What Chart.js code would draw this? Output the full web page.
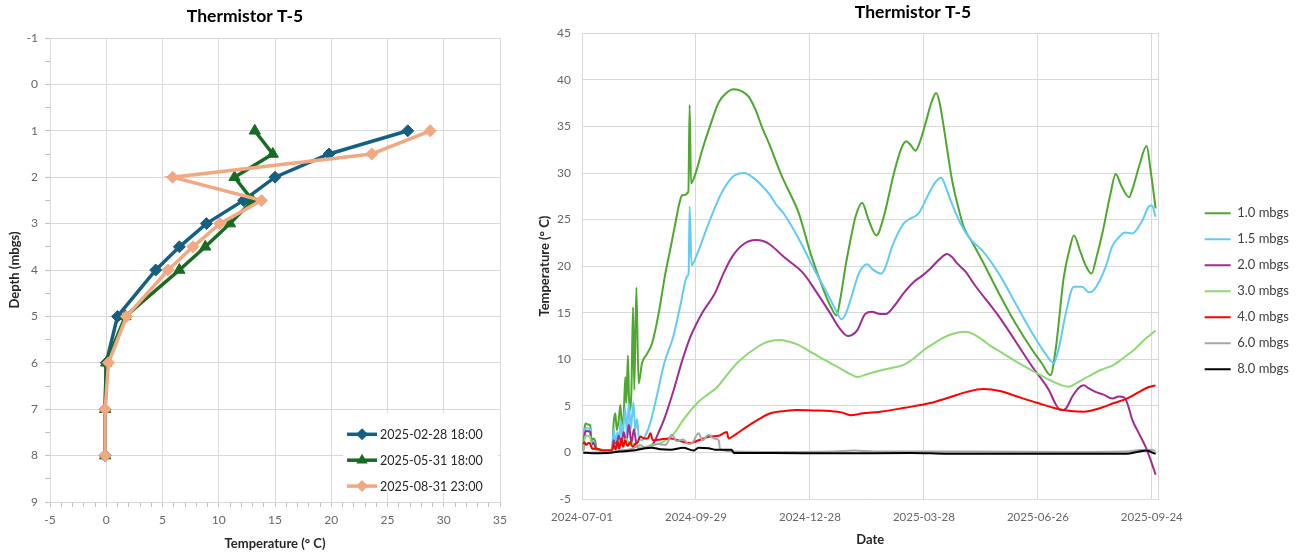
<!DOCTYPE html>
<html>
<head>
<meta charset="utf-8">
<script src="https://cdn.jsdelivr.net/npm/chart.js"></script>
<style>
  html, body { margin: 0; padding: 0; background: #fff; overflow: hidden; }
  #wrap { position: relative; width: 1299px; height: 554px; }
  #left { position: absolute; left: -12px; top: 0; }
  #right { position: absolute; left: 527px; top: 0; }
</style>
</head>
<body>
<div id="wrap">
  <canvas id="left" width="525" height="554"></canvas>
  <canvas id="right" width="772" height="554"></canvas>
</div>
<script>
// ---- profile chart (left) ----
const depths = [1, 1.5, 2, 2.5, 3, 3.5, 4, 5, 6, 7, 8];
const profileLabels = ["2025-02-28 18:00", "2025-05-31 18:00", "2025-08-31 23:00"];
const tempFeb = [26.8, 19.8, 15.0, 12.2, 8.9, 6.5, 4.4, 1.0, 0.0, -0.1, -0.1];
const tempMay = [13.2, 14.8, 11.4, 13.0, 11.0, 8.8, 6.5, 1.7, 0.0, -0.1, -0.1];
const tempAug = [28.8, 23.6, 5.9, 13.8, 10.1, 7.7, 5.5, 1.8, 0.2, -0.1, -0.1];

// ---- time series (right) : [days since 2024-07-01, °C] ----
const seriesLabels = ["1.0 mbgs", "1.5 mbgs", "2.0 mbgs", "3.0 mbgs", "4.0 mbgs", "6.0 mbgs", "8.0 mbgs"];
const dateTicks = [0, 90, 180, 270, 360, 450]; // days since 2024-07-01
const t10 = [[1,0.4],[2,2.6],[3,3.1],[5,3.0],[6.5,2.9],[7.5,1.3],[9,1.5],[10.5,1.2],[11.5,0.4],[16,0.3],[22,0.2],[24,0.6],[25,3.2],[26.3,4.2],[27.5,2.4],[29,3.5],[30.3,5.1],[31.5,3.0],[33,4.2],[34.2,8.1],[35,5.3],[36.3,10.4],[37.4,4.5],[39,6.5],[40.3,15.6],[41.3,6.7],[42.9,17.7],[44.7,7.4],[47.4,9.6],[51,10.5],[55.3,11.7],[60.5,14.9],[65.8,19.2],[70,22],[73.7,24.6],[77,26.8],[79,27.6],[84,28.0],[85,37.3],[86.1,28.9],[89.5,29.9],[95,32.5],[100,34.6],[108,37.6],[114,38.6],[119.8,39.0],[126,38.8],[131.6,38.2],[137,36.8],[142.2,34.9],[148.8,32.8],[152.7,31.4],[159.3,29.2],[165,27.6],[171.2,25.7],[180.4,21.4],[190.9,17.4],[197,15.5],[201,14.7],[204,16.5],[208,19.9],[212,22.8],[216,25.3],[221.2,26.8],[226.5,24.9],[232.5,23.3],[238.3,25.3],[246.2,29.9],[252,32.6],[256.2,33.4],[259.5,33.0],[263.4,32.4],[267,33.4],[271.2,35.3],[276,37.6],[279.7,38.6],[282.5,37.5],[285.7,34.9],[292.3,29.2],[297,26.4],[301.5,24.2],[308,22.6],[316,20.6],[329.2,17.1],[342.4,13.85],[355.6,11.0],[363,9.6],[370,8.3],[374,11],[380.5,18.85],[385,21.8],[388.4,23.3],[393.7,21.5],[398,20.0],[402.4,19.2],[406,20.8],[410.9,23.5],[417.4,27.8],[421.4,29.9],[426,28.6],[432,27.4],[435,28.4],[439.8,30.65],[445.9,32.9],[449,30.3],[453,26.2]];
const t15 = [[1,0.3],[2,2.2],[3,2.6],[6.5,2.5],[7.5,1.0],[9,1.2],[11.5,0.3],[16,0.2],[22,0.2],[24,0.5],[25,2.5],[26.5,1.0],[28,2.2],[29.5,1.2],[30.5,3.5],[32,1.5],[34,4.8],[35.5,2.0],[37,5.3],[38.5,2.5],[40.6,5.4],[42,2.4],[43.5,3.6],[45,1.5],[47,1.3],[50,1.8],[54,3.2],[59,6.0],[65,9.6],[72,12.4],[78,16.0],[83,18.9],[84.2,19.3],[85,26.4],[86.5,20.1],[90,21.0],[100,24.6],[110,27.8],[120,29.7],[128.5,30.0],[135,29.5],[141,28.8],[148.7,27.6],[152.8,26.7],[159.3,25.65],[172.5,22.6],[183,19.75],[193.6,17.1],[200,15.4],[204.9,14.3],[208,14.8],[212,16.35],[218.6,19.2],[225.2,20.2],[230,19.6],[236.5,19.2],[240,20.0],[244.9,22.1],[254.1,24.6],[259.4,25.1],[266,25.7],[273.9,27.8],[279,29.0],[283.7,29.5],[287,28.6],[291,27.1],[298.9,24.6],[303,23.6],[308,22.7],[316,21.7],[329.2,19.2],[342.4,16.0],[355.6,12.8],[366,10.6],[372.6,9.6],[377,11.5],[382,14.9],[388.4,17.8],[395,17.8],[400,17.2],[404,17.4],[413.5,19.9],[418.6,22.1],[424,23.1],[429,23.6],[434.5,23.5],[442.5,24.9],[447.7,26.4],[450,26.5],[453,25.3]];
const t20 = [[1,0.2],[2,1.8],[3,2.3],[6.5,2.2],[7.5,0.8],[9,1.0],[11.5,0.3],[22,0.2],[24,0.4],[25,1.3],[27,0.5],[29,1.8],[31,0.8],[33,2.2],[35,1.0],[37,3.0],[39,1.0],[41,2.5],[43,0.8],[46,0.4],[52,0.6],[56.6,1.0],[60,2.0],[65,3.6],[72.4,6.7],[79,9.8],[85.6,12.4],[95,15.0],[105,17.1],[112,19.3],[118.5,21.0],[128,22.4],[137,22.8],[143,22.7],[148.7,22.3],[159.3,21.0],[175,19.2],[185.7,17.1],[196.2,14.9],[203,13.4],[210,12.5],[213,12.6],[217.3,13.1],[223.8,14.9],[229,15.1],[234,14.9],[239.7,14.85],[247,15.8],[254,17.1],[262,18.3],[268,18.9],[275.2,19.75],[282,20.7],[288.4,21.3],[292,21.0],[296.3,20.3],[302.9,19.4],[310,18.0],[329.2,14.6],[355.6,9.2],[368.7,6.7],[374,5.2],[378,4.55],[382,4.7],[387.2,6.0],[392,6.9],[396.3,7.2],[400,6.9],[405.6,6.5],[412,6.2],[418.8,5.8],[424,6.0],[428,5.9],[430.6,5.3],[434.6,3.5],[439.8,2.05],[445.1,0.6],[449,-0.8],[453,-2.4]];
const t30 = [[1,0.2],[2,1.4],[3,1.8],[6.5,1.7],[7.5,0.6],[11.5,0.3],[22,0.2],[24,0.4],[26,0.8],[28,0.5],[30,1.3],[33,0.7],[35,1.5],[38,0.8],[40,1.0],[46,0.5],[55,0.8],[62,1.0],[68,1.5],[72.4,2.0],[80,3.5],[91,5.3],[98,6.1],[106.7,7.0],[115,8.4],[122.5,9.6],[135,11.0],[143.5,11.7],[150,12.0],[156.7,12.06],[163,11.9],[170,11.6],[183,10.6],[192,9.9],[201.4,9.2],[212,8.4],[217.3,8.1],[225,8.4],[235.7,8.8],[245,9.1],[254,9.4],[262,10.1],[270,11.0],[278,11.7],[285,12.3],[293,12.75],[302.9,12.95],[309,12.7],[315,12.2],[322,11.5],[330.5,10.8],[345,9.6],[359.5,8.5],[372,7.6],[379,7.2],[384.5,7.05],[390,7.4],[395,7.8],[402,8.3],[409.5,8.85],[420,9.4],[428,10.2],[435.8,11.0],[445,12.2],[453,13.1]];
const t40 = [[1,0.9],[2,1.1],[3,0.8],[5,1.0],[6.5,0.9],[8,0.4],[12,0.4],[16,0.2],[22,0.2],[24,0.3],[25,0.8],[26.5,0.3],[28,1.2],[29.5,0.4],[31,1.5],[32.5,0.6],[34,1.3],[36,0.7],[38,1.1],[40,0.6],[42,0.9],[44,1.1],[46,1.7],[49,1.5],[52,1.5],[54,2.05],[56,1.3],[62,1.4],[70,1.5],[78,1.2],[85.6,1.0],[92,1.3],[101,1.7],[108,1.8],[114.5,2.2],[115.6,1.5],[122,2.0],[130,2.75],[140,3.6],[148.8,4.2],[160,4.45],[170,4.55],[185,4.5],[196,4.44],[205,4.3],[212,4.0],[222,4.2],[235.7,4.37],[255,4.8],[275,5.3],[290,5.9],[304,6.5],[317,6.8],[330,6.6],[343.7,6.0],[360,5.3],[375,4.7],[386,4.45],[396,4.37],[410,4.8],[420,5.3],[430.6,5.8],[440,6.5],[447,7.0],[453,7.2]];
const t60 = [[1,-0.05],[10,0.0],[24,0.05],[30,0.2],[40,0.4],[46,0.8],[50,0.5],[60,0.9],[66,0.8],[71,1.9],[75,1.2],[80,1.4],[84,0.9],[87,1.0],[92,2.05],[95,1.3],[100,1.9],[104,1.5],[108,1.3],[109,0.35],[120,0.1],[150,0.05],[200,0.1],[215,0.2],[230,0.1],[300,0.1],[380,0.05],[430,0.1],[440,0.25],[448,0.3],[453,0.15]];
const t80 = [[1,0.0],[10,-0.1],[20,-0.05],[30,0.1],[40,0.2],[50,0.45],[55,0.5],[62,0.35],[70,0.3],[80,0.5],[88,0.2],[92,0.5],[100,0.45],[105,0.3],[118,0.3],[120,-0.05],[150,-0.05],[200,-0.1],[260,-0.05],[290,-0.15],[350,-0.15],[430,-0.15],[440,0.1],[446,0.2],[450,0.0],[453,-0.15]];

const FONT = "Lato";
const GRID = "#d9d9d9";
const TICK = "#666666";
const AXIS_TITLE = "#262626";
Chart.defaults.font.family = FONT;

// ---------- left chart ----------
const profileColors = ["#156082", "#196b24", "#f1a983"];
const profileStyles = ["rectRot", "triangle", "rectRot"];
const profileRadius = [6, 6.5, 6];
const profileTemps = [tempFeb, tempMay, tempAug];

// legend box drawn inside the plot, bottom right
const profileLegend = {
    id: "profileLegend",
    afterDraw(chart) {
        const ctx = chart.ctx;
        const a = chart.chartArea;
        const x0 = a.right - 157, y0 = a.bottom - 89;
        ctx.save();
        ctx.fillStyle = "#ffffff";
        ctx.fillRect(x0, y0, 155, 80);
        ctx.font = "12.5px " + FONT;
        ctx.textBaseline = "middle";
        profileLabels.forEach((lab, i) => {
            const y = y0 + 21.3 + i * 25.9;
            ctx.strokeStyle = profileColors[i];
            ctx.lineWidth = 3.5;
            ctx.beginPath();
            ctx.moveTo(x0 + 4, y);
            ctx.lineTo(x0 + 34, y);
            ctx.stroke();
            ctx.fillStyle = profileColors[i];
            const cx = x0 + 19, r = profileRadius[i];
            ctx.beginPath();
            if (profileStyles[i] === "triangle") {
                ctx.moveTo(cx, y - r);
                ctx.lineTo(cx + r * 0.866, y + r * 0.5);
                ctx.lineTo(cx - r * 0.866, y + r * 0.5);
            } else {
                ctx.moveTo(cx, y - r);
                ctx.lineTo(cx + r, y);
                ctx.lineTo(cx, y + r);
                ctx.lineTo(cx - r, y);
            }
            ctx.closePath();
            ctx.fill();
            ctx.fillStyle = "#262626";
            ctx.fillText(lab, x0 + 37, y + 0.5);
        });
        ctx.restore();
    }
};

new Chart(document.getElementById("left").getContext("2d"), {
    type: "scatter",
    data: {
        datasets: profileLabels.map((lab, i) => ({
            label: lab,
            data: depths.map((d, k) => ({ x: profileTemps[i][k], y: d })),
            showLine: true,
            borderColor: profileColors[i],
            backgroundColor: profileColors[i],
            borderWidth: 3.5,
            pointStyle: profileStyles[i],
            pointRadius: profileRadius[i],
            pointBorderWidth: 1,
            order: 2 - i
        }))
    },
    options: {
        responsive: false,
        animation: false,
        layout: { padding: { left: 0, right: 11, top: 0, bottom: 0 } },
        plugins: {
            legend: { display: false },
            tooltip: { enabled: false },
            title: {
                display: true, text: "Thermistor T-5", color: "#000",
                font: { size: 17.5, weight: "bold" }, padding: { top: 6.1, bottom: 10.9 }
            }
        },
        scales: {
            x: {
                type: "linear", min: -5, max: 35,
                ticks: {
                    stepSize: 1, autoSkip: false, maxRotation: 0, padding: 6,
                    color: TICK, font: { size: 12 },
                    callback: v => (v % 5 === 0 ? v : "")
                },
                grid: {
                    color: c => (c.tick && c.tick.value % 5 === 0 ? GRID : "rgba(0,0,0,0)"),
                    tickColor: "#bfbfbf", tickLength: 5
                },
                border: { color: GRID },
                title: {
                    display: true, text: "Temperature (° C)", color: AXIS_TITLE,
                    font: { size: 13, weight: "bold" }, padding: { top: 0, bottom: 2.2 }
                },
                afterFit: s => { s.height = 52; }
            },
            y: {
                type: "linear", reverse: true, min: -1, max: 9,
                ticks: {
                    stepSize: 0.5, autoSkip: false, padding: 7,
                    color: TICK, font: { size: 12 },
                    callback: v => (Number.isInteger(v) ? v : "")
                },
                grid: {
                    color: c => (c.tick && Number.isInteger(c.tick.value) ? GRID : "rgba(0,0,0,0)"),
                    tickColor: "#bfbfbf", tickLength: 5
                },
                border: { color: GRID },
                title: {
                    display: true, text: "Depth (mbgs)", color: AXIS_TITLE,
                    font: { size: 13, weight: "bold" }, padding: { top: 19.2, bottom: 0 }
                },
                afterFit: s => { s.width = 62; }
            }
        }
    },
    plugins: [profileLegend]
});

// ---------- right chart ----------
const seriesColors = ["#4ea72e", "#61cbf3", "#a02b93", "#8ed973", "#ff0000", "#a6a6a6", "#000000"];
const seriesData = [t10, t15, t20, t30, t40, t60, t80];
const day0 = Date.UTC(2024, 6, 1);

new Chart(document.getElementById("right").getContext("2d"), {
    type: "line",
    data: {
        datasets: seriesLabels.map((lab, i) => ({
            label: lab,
            data: seriesData[i].map(p => ({ x: p[0], y: p[1] })),
            borderColor: seriesColors[i],
            backgroundColor: seriesColors[i],
            borderWidth: 2,
            pointRadius: 0,
            cubicInterpolationMode: "monotone",
            order: seriesLabels.length - i
        }))
    },
    options: {
        responsive: false,
        animation: false,
        layout: { padding: { left: 0, right: 0, top: 0, bottom: 0 } },
        plugins: {
            tooltip: { enabled: false },
            title: {
                display: true, text: "Thermistor T-5", color: "#000",
                font: { size: 17.5, weight: "bold" }, padding: { top: 1.5, bottom: 10.8 }
            },
            legend: {
                position: "right",
                title: { display: true, text: "", font: { size: 12 }, padding: 7 },
                labels: {
                    usePointStyle: true, pointStyle: "line", pointStyleWidth: 26,
                    padding: 13, color: "#404040", font: { size: 13 },
                    sort: (a, b) => a.datasetIndex - b.datasetIndex
                }
            }
        },
        scales: {
            x: {
                type: "linear", min: 0, max: 455.4,
                afterBuildTicks: s => { s.ticks = dateTicks.map(v => ({ value: v })); },
                ticks: {
                    autoSkip: false, maxRotation: 0,
                    padding: 11, color: TICK, font: { size: 11.5 },
                    callback: v => new Date(day0 + v * 864e5).toISOString().slice(0, 10)
                },
                grid: { color: GRID, drawTicks: false },
                border: { color: GRID },
                title: {
                    display: true, text: "Date", color: AXIS_TITLE,
                    font: { size: 13, weight: "bold" }, padding: { top: 0, bottom: 6.2 }
                },
                afterFit: s => { s.height = 55; }
            },
            y: {
                type: "linear", min: -5, max: 45,
                ticks: { stepSize: 5, padding: 11, color: TICK, font: { size: 12 } },
                grid: { color: GRID, drawTicks: false },
                border: { color: GRID },
                title: {
                    display: true, text: "Temperature (° C)", color: AXIS_TITLE,
                    font: { size: 13, weight: "bold" }, padding: { top: 10.2, bottom: 0 }
                },
                afterFit: s => { s.width = 55; }
            },
            edge: {
                type: "linear", position: "right", display: true,
                grid: { display: false, drawTicks: false },
                ticks: { display: false },
                border: { display: true, color: GRID },
                afterFit: s => { s.width = 33; }
            }
        }
    }
});
</script>
</body>
</html>
